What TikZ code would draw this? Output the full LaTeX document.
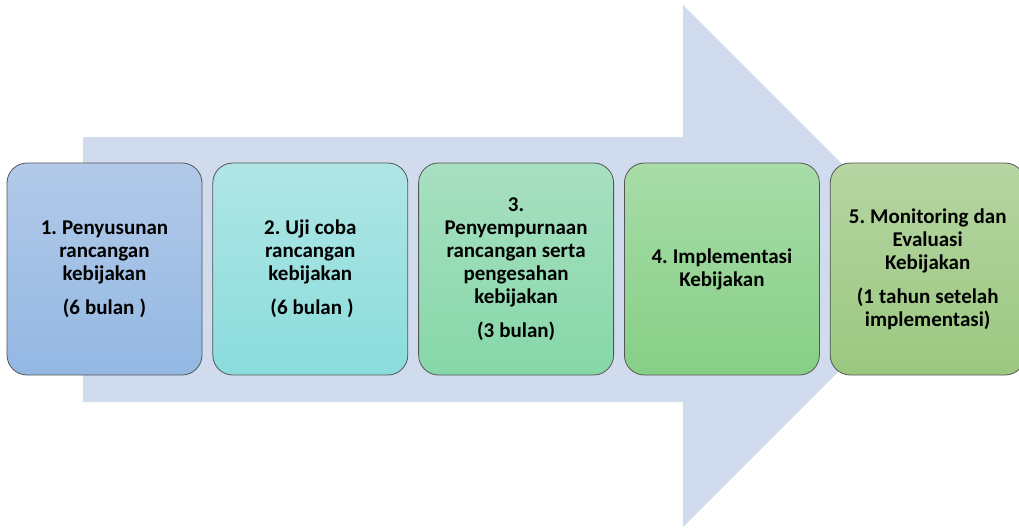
\documentclass[tikz,border=0pt]{standalone}
\usepackage{fontspec}
\setmainfont{Carlito}
\usetikzlibrary{positioning}
\definecolor{panah}{RGB}{208,220,238}
\definecolor{garis}{RGB}{85,85,85}
\definecolor{atasA}{RGB}{178,201,233}\definecolor{bawahA}{RGB}{147,184,226}
\definecolor{atasB}{RGB}{176,229,229}\definecolor{bawahB}{RGB}{138,220,220}
\definecolor{atasC}{RGB}{168,224,194}\definecolor{bawahC}{RGB}{134,215,168}
\definecolor{atasD}{RGB}{168,220,168}\definecolor{bawahD}{RGB}{134,207,134}
\definecolor{atasE}{RGB}{182,213,162}\definecolor{bawahE}{RGB}{155,200,128}
\frenchspacing
\begin{document}
\begin{tikzpicture}[x=1pt, y=-1pt, font=\bfseries\fontsize{21}{23}\selectfont, line join=round,
	tahap/.style={draw=garis, line width=0.8pt, rounded corners=20pt, minimum width=195pt, minimum height=212pt, text width=190pt, align=center, inner sep=0pt, execute at begin node={\spaceskip=0.24em\relax}}]
			\def\jarak{11pt}
			\useasboundingbox (0,0) rectangle (1019,531);
			%panah latar
			\fill[panah] (83,137)--(683,137)--(683,5)--(944,266)--(683,527)--(683,402)--(83,402)--cycle;
			\node[tahap, top color=atasA, bottom color=bawahA] (t1) at (104.5,269) {1. Penyusunan\\ rancangan\\ kebijakan\\[\jarak] (6 bulan )};
			\node[tahap, top color=atasB, bottom color=bawahB, right=10pt of t1] (t2) {2. Uji coba\\ rancangan\\ kebijakan\\[\jarak] \,(6 bulan )};
			\node[tahap, top color=atasC, bottom color=bawahC, right=10pt of t2] (t3) {3.\\ Penyempurnaan\\ rancangan serta\\ pengesahan\\ kebijakan\\[\jarak] (3 bulan)};
			\node[tahap, top color=atasD, bottom color=bawahD, right=10pt of t3] (t4) {4. Implementasi\\ Kebijakan};
			\node[tahap, top color=atasE, bottom color=bawahE, right=10pt of t4] (t5) {5. Monitoring dan\\ Evaluasi\\ Kebijakan\\[\jarak] (1 tahun setelah\\ implementasi)};
		\end{tikzpicture}
\end{document}
